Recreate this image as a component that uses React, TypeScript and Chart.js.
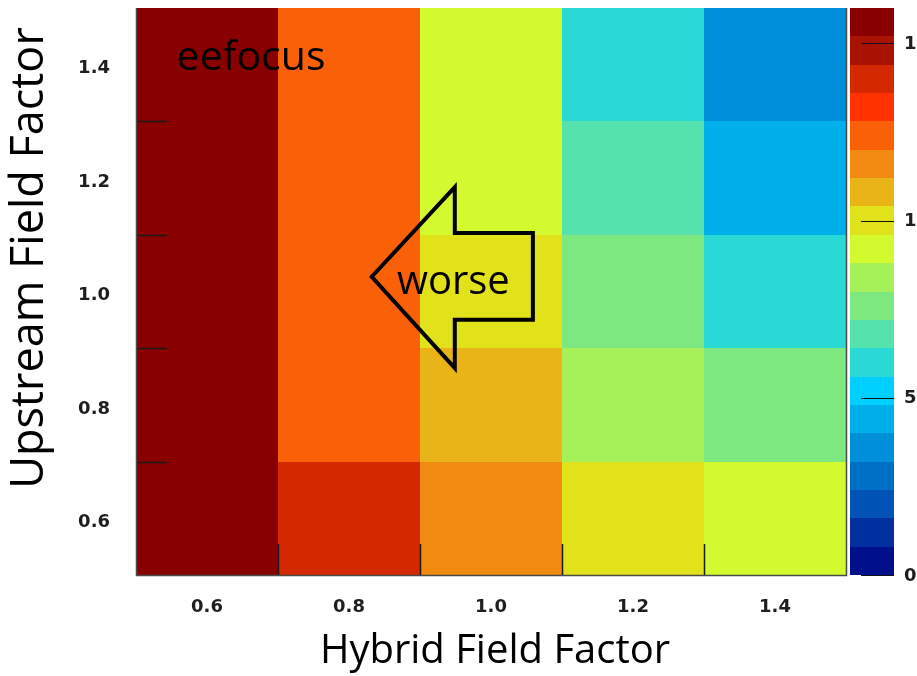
import React, { useEffect, useRef } from "react";
import { Chart, registerables } from "chart.js";

Chart.register(...registerables);

// Bin centres along each axis
const hybridFactors = [0.6, 0.8, 1.0, 1.2, 1.4];
const upstreamFactors = [0.6, 0.8, 1.0, 1.2, 1.4];

// Cell values, one array per upstream factor, ordered by hybrid factor
const upstream06 = [15.6, 14.0, 11.6, 10.0, 9.2];
const upstream08 = [15.6, 12.4, 10.8, 8.4, 7.6];
const upstream10 = [15.6, 12.4, 10.0, 7.6, 6.0];
const upstream12 = [15.6, 12.4, 9.2, 6.8, 4.4];
const upstream14 = [15.6, 12.4, 9.2, 6.0, 3.6];
const cellRows = [upstream06, upstream08, upstream10, upstream12, upstream14];

// Colour scale: range, labelled ticks and the 20 palette steps (low to high)
const zRange = [0, 16];
const zTicks = [0, 5, 10, 15];
const palette = [
  "#00108c", "#0030a0", "#0052b4", "#0070c6", "#0090da",
  "#00b0ea", "#00d0ff", "#2ad8d6", "#55e2ac", "#7de87f",
  "#a6f05a", "#d2fa2e", "#e2e21a", "#e8b418", "#f08a10",
  "#fa6008", "#ff3300", "#d42800", "#aa1200", "#880000",
];

const binHalf = 0.1;

// Annotation placement in axis units
const labelAnchor = { x: 0.662, y: 1.39 };
const arrowOutline = [
  [0.832, 1.026],
  [0.949, 1.184],
  [0.949, 1.103],
  [1.059, 1.103],
  [1.059, 0.95],
  [0.949, 0.95],
  [0.949, 0.865],
];
const arrowText = { x: 0.947, y: 0.995 };

const cells = upstreamFactors.flatMap((u, r) =>
  hybridFactors.map((h, c) => ({ x: h, y: u, v: cellRows[r][c] }))
);

function colorFor(v: number) {
  const step = (zRange[1] - zRange[0]) / palette.length;
  let i = Math.floor((v - zRange[0]) / step);
  i = Math.max(0, Math.min(palette.length - 1, i));
  return palette[i];
}

const tickFont = { family: "'DejaVu Sans'", size: 18, weight: "bold" as const };

// keep tick-label padding from pushing the plot area around
function noScalePadding(s: any) {
  s.paddingTop = 0;
  s.paddingBottom = 0;
  s.paddingLeft = 0;
  s.paddingRight = 0;
}

const heatmapPlugin = {
  id: "heatmapCells",
  beforeDatasetsDraw(chart: any) {
    const { ctx, scales } = chart;
    const xs = scales.x, ys = scales.y, zs = scales.z;
    const pts = chart.data.datasets[0].data as { x: number; y: number; v: number }[];
    ctx.save();
    for (const p of pts) {
      const xa = Math.round(xs.getPixelForValue(p.x - binHalf));
      const xb = Math.round(xs.getPixelForValue(p.x + binHalf));
      const ya = Math.round(ys.getPixelForValue(p.y + binHalf));
      const yb = Math.round(ys.getPixelForValue(p.y - binHalf));
      ctx.fillStyle = colorFor(p.v);
      ctx.fillRect(xa, ya, xb - xa, yb - ya);
    }
    // colour bar
    const step = (zRange[1] - zRange[0]) / palette.length;
    const barL = zs.left + 4;
    const barR = zs.left + 48;
    palette.forEach((c, i) => {
      const top = Math.round(zs.getPixelForValue(zRange[0] + (i + 1) * step));
      const bot = Math.round(zs.getPixelForValue(zRange[0] + i * step));
      ctx.fillStyle = c;
      ctx.fillRect(barL, top, barR - barL, bot - top);
    });
    ctx.strokeStyle = "#111";
    ctx.lineWidth = 1.2;
    for (const t of zTicks) {
      const py = Math.round(zs.getPixelForValue(t)) + 0.5;
      ctx.beginPath();
      ctx.moveTo(barL + 11, py);
      ctx.lineTo(barR, py);
      ctx.stroke();
    }
    ctx.restore();
  },
  afterDatasetsDraw(chart: any) {
    const { ctx, chartArea, scales } = chart;
    const xs = scales.x, ys = scales.y;
    const { left, right, top, bottom } = chartArea;
    ctx.save();
    // tick marks on the bin edges
    ctx.strokeStyle = "#1a1a1a";
    ctx.lineWidth = 1.5;
    for (let i = 0; i < hybridFactors.length - 1; i++) {
      const px = Math.round(xs.getPixelForValue((hybridFactors[i] + hybridFactors[i + 1]) / 2)) + 0.5;
      ctx.beginPath();
      ctx.moveTo(px, bottom);
      ctx.lineTo(px, bottom - 31);
      ctx.stroke();
    }
    for (let i = 0; i < upstreamFactors.length - 1; i++) {
      const py = Math.round(ys.getPixelForValue((upstreamFactors[i] + upstreamFactors[i + 1]) / 2)) + 0.5;
      ctx.beginPath();
      ctx.moveTo(left, py);
      ctx.lineTo(left + 31, py);
      ctx.stroke();
    }
    // frame
    ctx.strokeStyle = "#4a4a4a";
    ctx.lineWidth = 1.5;
    ctx.beginPath();
    ctx.moveTo(left + 0.5, top);
    ctx.lineTo(left + 0.5, bottom + 0.5);
    ctx.lineTo(right + 0.5, bottom + 0.5);
    ctx.lineTo(right + 0.5, top);
    ctx.stroke();

    // arrow annotation
    ctx.strokeStyle = "#000";
    ctx.lineWidth = 4;
    ctx.lineJoin = "miter";
    ctx.beginPath();
    arrowOutline.forEach(([ax, ay], i) => {
      const px = xs.getPixelForValue(ax);
      const py = ys.getPixelForValue(ay);
      if (i === 0) ctx.moveTo(px, py);
      else ctx.lineTo(px, py);
    });
    ctx.closePath();
    ctx.stroke();

    ctx.fillStyle = "#000";
    ctx.textAlign = "center";
    ctx.textBaseline = "alphabetic";
    ctx.font = "40px 'Open Sans'";
    ctx.fillText("worse", xs.getPixelForValue(arrowText.x), ys.getPixelForValue(arrowText.y));
    ctx.font = "41px 'Open Sans'";
    ctx.fillText("eefocus", xs.getPixelForValue(labelAnchor.x), ys.getPixelForValue(labelAnchor.y));
    ctx.restore();
  },
  afterDraw(chart: any) {
    const { ctx, chartArea } = chart;
    ctx.save();
    ctx.fillStyle = "#000";
    ctx.textAlign = "center";
    ctx.textBaseline = "alphabetic";
    ctx.font = "40px 'Open Sans'";
    ctx.fillText("Hybrid Field Factor", (chartArea.left + chartArea.right) / 2 + 4, 663);
    ctx.translate(0, 258);
    ctx.rotate(-Math.PI / 2);
    ctx.font = "45px 'Open Sans'";
    ctx.fillText("Upstream Field Factor", 0, 43);
    ctx.restore();
  },
};

export default function App() {
  const ref = useRef<HTMLCanvasElement>(null);

  useEffect(() => {
    const chart = new Chart(ref.current!, {
      type: "scatter",
      data: {
        datasets: [
          {
            data: cells as any,
            pointRadius: 0,
            pointHoverRadius: 0,
            showLine: false,
          },
        ],
      },
      options: {
        animation: false,
        responsive: false,
        devicePixelRatio: 1,
        layout: { padding: { top: 8, left: 0, right: 0, bottom: 0 } },
        plugins: { legend: { display: false }, tooltip: { enabled: false } },
        scales: {
          x: {
            type: "linear",
            position: "bottom",
            min: 0.5,
            max: 1.5,
            afterBuildTicks: (s: any) => {
              s.ticks = hybridFactors.map((value) => ({ value }));
            },
            afterFit: (s: any) => {
              s.height = 101;
              noScalePadding(s);
            },
            grid: { display: false, drawTicks: false },
            border: { display: false },
            ticks: {
              font: tickFont,
              color: "#1e1e1e",
              padding: 22,
              maxRotation: 0,
              autoSkip: false,
              callback: (v: any) => Number(v).toFixed(1),
            },
          },
          y: {
            type: "linear",
            position: "left",
            min: 0.5,
            max: 1.5,
            afterBuildTicks: (s: any) => {
              s.ticks = upstreamFactors.map((value) => ({ value }));
            },
            afterFit: (s: any) => {
              s.width = 136;
              noScalePadding(s);
            },
            grid: { display: false, drawTicks: false },
            border: { display: false },
            ticks: {
              font: tickFont,
              color: "#1e1e1e",
              padding: 26,
              labelOffset: 4,
              autoSkip: false,
              callback: (v: any) => Number(v).toFixed(1),
            },
          },
          z: {
            type: "linear",
            position: "right",
            min: zRange[0],
            max: zRange[1],
            afterBuildTicks: (s: any) => {
              s.ticks = zTicks.map((value) => ({ value }));
            },
            afterFit: (s: any) => {
              s.width = 71;
              noScalePadding(s);
            },
            grid: { display: false, drawTicks: false },
            border: { display: false },
            ticks: {
              font: tickFont,
              color: "#1e1e1e",
              padding: 58,
              labelOffset: 1,
              autoSkip: false,
              callback: (v: any) => String(v),
            },
          },
        },
      },
      plugins: [heatmapPlugin],
    });
    return () => chart.destroy();
  }, []);

  return (
    <div style={{ position: "fixed", left: 0, top: 0, width: 917, height: 676, background: "#fff" }}>
      <canvas ref={ref} width={917} height={676} style={{ display: "block" }} />
    </div>
  );
}
